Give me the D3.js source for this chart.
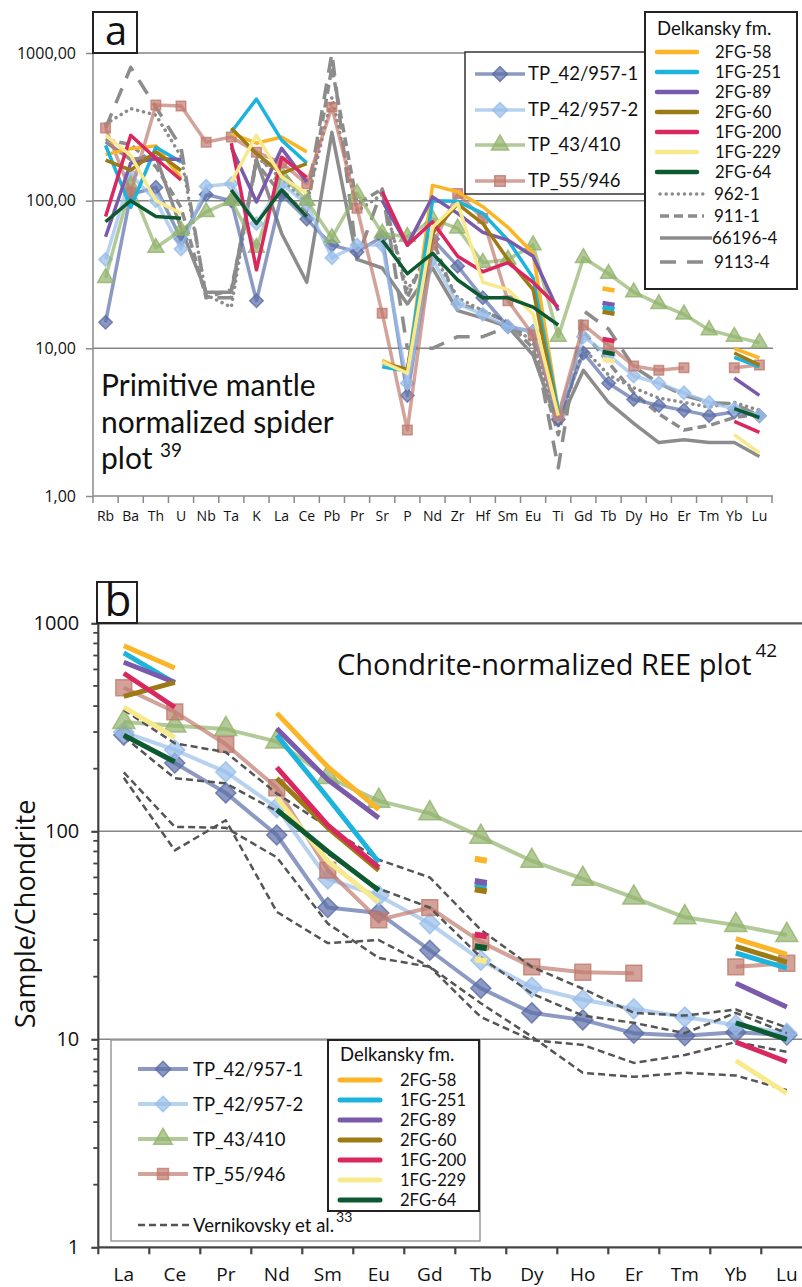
<!DOCTYPE html>
<html>
<head>
<meta charset="utf-8">
<script src="https://cdn.jsdelivr.net/npm/d3@7"></script>
<style>
body { margin: 0; background: #fff; }
svg text { font-family: "Open Sans", Lato, sans-serif; fill: #111; }
svg text.leg { font-family: Lato, "Open Sans", sans-serif; }
</style>
</head>
<body>
<div class="content"></div>
<script>
// ---- panel a: primitive mantle normalized ----
var elementsA = ["Rb","Ba","Th","U","Nb","Ta","K","La","Ce","Pb","Pr","Sr","P","Nd","Zr","Hf","Sm","Eu","Ti","Gd","Tb","Dy","Ho","Er","Tm","Yb","Lu"];

var tp42_1A = [15,110,123,55,110,100,21,110,75,50,45,57,4.8,55,36,22,14,13,3.3,9.3,5.8,4.5,4.1,3.8,3.5,3.7,3.5];
var tp42_2A = [40,150,100,47,125,130,70,130,95,41,50,50,5.8,40,20,17,14,13,3.5,12,9,6.5,5.8,5.0,4.3,3.9,3.5];
var tp43A   = [30,127,48,63,84,100,48,150,100,56,112,60,57,75,65,38,40,50,12,41,32,24,20,17,13.3,12,10.9];
var tp55A   = [310,114,444,437,249,270,213,180,130,430,89,17.3,2.8,50,112,76,21,12.3,3.5,14.4,10.5,7.6,7.1,7.4,null,7.4,7.7];

var fg58A  = [205,225,235,142,null,286,245,270,214,null,null,8.3,6.9,127,115,91,66,44,3.8,null,25,null,null,null,null,10,8.6];
var fg251A = [237,90,230,183,null,292,487,257,180,null,null,7.5,7.0,100,99,82,54,30,3.8,null,18.7,null,null,null,null,8.7,7.5];
var fg89A  = [57,180,192,190,null,230,98,226,134,null,null,100,50,106,82,61,54,42,18,null,20,null,null,null,null,6.3,4.8];
var fg60A  = [188,161,214,160,null,310,208,153,178,null,null,8.0,7.2,60,95,70,40,25,3.5,null,17.4,null,null,null,null,9.3,7.7];
var fg200A = [78,277,193,138,null,245,34,197,144,null,null,115,50,72,42,33,38,28,19,null,11.4,null,null,null,null,3.2,2.7];
var fg229A = [277,203,100,82,null,134,277,145,112,null,null,8.1,6.8,66,96,28,25,17,3.5,null,8.3,null,null,null,null,2.6,1.95];
var fg64A  = [72,100,78,76,null,118,70,118,78,null,null,54,32,44,29,22,22,19,14.4,null,9.3,null,null,null,null,3.9,3.4];

var ref962A   = [330,420,380,200,23,19,200,140,95,500,85,110,25,45,22,18,15,11,3.0,10,6.6,5.4,4.6,4.3,4.0,4.3,3.8];
var ref911A   = [260,240,170,90,22,25,180,110,85,800,95,120,22,55,20,18,15,10,2.6,13,8,5,3.6,2.8,3.0,3.4,3.6];
var ref66196A = [250,190,200,65,24,24,190,60,28,290,40,35,20,35,18,16,14,9,3.0,7.1,4.3,3.1,2.3,2.4,2.3,2.3,1.85];
var ref9113A  = [310,800,430,230,22,22,190,160,100,1000,40,120,10,10,12,12,14,12,1.55,18,13.5,7.5,5.8,4.8,4.3,4.2,3.5];

// ---- panel b: chondrite normalized REE ----
var elementsB = ["La","Ce","Pr","Nd","Sm","Eu","Gd","Tb","Dy","Ho","Er","Tm","Yb","Lu"];

var tp42_1B = [290,213,153,96,43,40.5,26.8,17.6,13.4,12.4,10.7,10.4,10.8,10.5];
var tp42_2B = [300,246,193,130,59,49,36,24,17.8,15.5,14,12.8,11.7,10.7];
var tp43B   = [335,322,310,270,182,140,122,94,72,59,48,38.6,35.4,31.7];
var tp55B   = [490,375,262,162,65,37.5,43,29.4,22.3,21,20.8,null,22.3,23.2];

var fg58B  = [780,610,null,370,204,127,null,73,null,null,null,null,30.5,25.6];
var fg251B = [720,515,null,290,145,71,null,55,null,null,null,null,26,22];
var fg89B  = [650,520,null,312,177,116,null,57,null,null,null,null,18.6,14.3];
var fg60B  = [445,520,null,180,104,65,null,52,null,null,null,null,28,23.5];
var fg200B = [575,395,null,203,107,67,null,31.6,null,null,null,null,9.7,7.8];
var fg229B = [395,282,null,145,72,45.6,null,24,null,null,null,null,7.9,5.5];
var fg64B  = [290,216,null,127,80,52,null,27.7,null,null,null,null,12,10];

var vernA = [383,265,240,152,105,73,60,33.6,22.3,17.5,13.4,13,13.9,11.4];
var vernB = [285,180,170,125,78,53,43,24.8,16.6,13,12,10.7,13.4,10.7];
var vernC = [192,105,104,75,36,24.6,22.3,14.9,10.3,6.9,6.6,6.9,6.7,5.7];
var vernD = [181,81,113,41,29,30,22.3,12.8,9.9,9.4,7.7,8.4,9.7,8.7];

var tpNames = ["TP_42/957-1","TP_42/957-2","TP_43/410","TP_55/946"];
var delkNames = ["2FG-58","1FG-251","2FG-89","2FG-60","1FG-200","1FG-229","2FG-64"];
var refNames = ["962-1","911-1","66196-4","9113-4"];

var tpColors = ["#5b6ea8","#98bde9","#92b36c","#c07a6e"];
var tpMarkers = ["diamond","diamond","triangle","square"];
var delkColors = ["#fbb526","#1cb3dc","#7a5aab","#9c7a14","#d9275f","#f8ea8c","#0e5a30"];
var refDash = ["0.1,6","9,5",null,"16,11"];

var svg = d3.select("div.content").append("svg")
    .attr("width", 802)
    .attr("height", 1287);

function marker(type, size){
    if(type == "triangle") return d3.symbol().type(d3.symbolTriangle).size(size)();
    return d3.symbol().type(d3.symbolSquare).size(size)();
}

class SpiderPlot{

    constructor(p){
        this.p = p;
        this.g = svg.append("g");
        this.x = d3.scaleBand().domain(p.categories).range(p.xRange);
        this.y = d3.scaleLog().domain([1, 1000]).range(p.yRange);
        var x = this.x, y = this.y;
        this.cx = function(k){ return x(k) + x.bandwidth()/2; };
    }

    frame(){
        var p = this.p, g = this.g, x = this.x, y = this.y;
        //gridlines
        g.selectAll(".grid")
            .data([10, 100, 1000])
        .enter().append("line")
            .attr("x1", p.xRange[0]).attr("x2", p.gridEnd)
            .attr("y1", function(d){return y(d);}).attr("y2", function(d){return y(d);})
            .style("stroke", function(d){return d == 1000 ? p.topColor : "#858585";})
            .style("stroke-width", function(d){return d == 1000 ? p.topWidth : 1.5;});
        //x-axis line and boundary ticks
        g.append("line")
            .attr("x1", p.xRange[0]).attr("x2", p.gridEnd)
            .attr("y1", y(1)).attr("y2", y(1))
            .style("stroke", p.axisColor).style("stroke-width", p.axisWidth);
        var bounds = p.categories.map(function(k){return x(k);}).concat([p.xRange[1]]);
        g.selectAll(".xtick")
            .data(bounds)
        .enter().append("line")
            .attr("x1", function(d){return d;}).attr("x2", function(d){return d;})
            .attr("y1", y(1)).attr("y2", y(1) + p.tick)
            .style("stroke", p.axisColor).style("stroke-width", p.axisWidth);
        //x labels
        var xAxis = d3.axisBottom(x).tickSize(0).tickPadding(p.labelPad);
        var xg = g.append("g").attr("transform", "translate(0," + y(1) + ")").call(xAxis);
        xg.select(".domain").remove();
        xg.selectAll("text").style("font-size", p.labelSize + "px").style("font-family", "'Open Sans', sans-serif").attr("fill", "#111");
        //y-axis
        g.append("line")
            .attr("x1", p.xRange[0]).attr("x2", p.xRange[0])
            .attr("y1", y(1000)).attr("y2", y(1))
            .style("stroke", p.axisColor).style("stroke-width", p.axisWidth);
        if(p.minor){
            var minors = [];
            [1, 10, 100].forEach(function(b){ for(var m = 2; m < 10; m++) minors.push(b*m); });
            g.selectAll(".minor")
                .data(minors)
            .enter().append("line")
                .attr("x1", p.xRange[0] - 5).attr("x2", p.xRange[0])
                .attr("y1", function(d){return y(d);}).attr("y2", function(d){return y(d);})
                .style("stroke", p.axisColor).style("stroke-width", 1.8);
        }
        var yAxis = d3.axisLeft(y).tickValues([1, 10, 100, 1000]).tickSize(p.tick).tickPadding(p.yPad)
            .tickFormat(p.yFormat);
        var yg = g.append("g").attr("transform", "translate(" + p.xRange[0] + ",0)").call(yAxis);
        yg.select(".domain").remove();
        yg.selectAll("line").style("stroke", p.axisColor).style("stroke-width", p.axisWidth);
        yg.selectAll("text").style("font-size", p.ySize + "px").style("font-family", "'Open Sans', sans-serif").attr("fill", "#111");
    }

    series(values, style){
        var cats = this.p.categories, x = this.x, y = this.y, cx = this.cx, g = this.g;
        var data = cats.map(function(k, i){ return {k: k, v: values[i]}; });
        var valueLine = d3.line()
            .defined(function(d){return d.v != null;})
            .x(function(d){return cx(d.k);})
            .y(function(d){return y(d.v);});
        var path = g.append("path")
            .datum(data)
            .attr("d", valueLine)
            .style("fill", "none")
            .style("stroke", style.color)
            .style("stroke-width", style.width)
            .style("stroke-opacity", style.opacity || 1)
            .style("stroke-linejoin", "round")
            .style("stroke-linecap", style.dash == "0.1,6" ? "round" : "butt");
        if(style.dash) path.style("stroke-dasharray", style.dash);
        //isolated points as short dashes
        var single = data.filter(function(d, i){
            return d.v != null && (i == 0 || data[i-1].v == null) && (i == data.length-1 || data[i+1].v == null);
        });
        g.selectAll(null)
            .data(single)
        .enter().append("line")
            .attr("x1", function(d){return cx(d.k) - 6;}).attr("x2", function(d){return cx(d.k) + 6;})
            .attr("y1", function(d){return y(d.v) - 1;}).attr("y2", function(d){return y(d.v) + 1;})
            .style("stroke", style.color).style("stroke-width", style.width + 1);
        if(style.marker){
            g.selectAll(null)
                .data(data.filter(function(d){return d.v != null;}))
            .enter().append("path")
                .attr("d", marker(style.marker, style.size))
                .attr("transform", function(d){
                    return "translate(" + cx(d.k) + "," + y(d.v) + ")" + (style.marker == "diamond" ? " rotate(45)" : "");
                })
                .style("fill", style.color).style("fill-opacity", 0.7)
                .style("stroke", style.color).style("stroke-opacity", 0.8).style("stroke-width", 1.5);
        }
    }
}

var commaFmt = function(d){ return d.toFixed(2).replace(".", ","); };

// ---------------- panel a ----------------
var plotA = new SpiderPlot({
    categories: elementsA, xRange: [93, 772], yRange: [496, 53], gridEnd: 773,
    topColor: "#858585", topWidth: 1.5, axisColor: "#8a8a8a", axisWidth: 1.5, tick: 7,
    labelSize: 14, labelPad: 15, minor: false, yFormat: commaFmt, ySize: 16, yPad: 10
});
plotA.frame();

[ref962A, ref911A, ref66196A, ref9113A].forEach(function(v, i){
    plotA.series(v, {color: "#8c8c8c", width: 3.5, dash: refDash[i]});
});
[tp42_1A, tp42_2A, tp43A, tp55A].forEach(function(v, i){
    plotA.series(v, {color: tpColors[i], width: 3.5, opacity: 0.7, marker: tpMarkers[i], size: tpMarkers[i] == "triangle" ? 110 : 90});
});
[fg58A, fg251A, fg89A, fg60A, fg200A, fg229A, fg64A].forEach(function(v, i){
    plotA.series(v, {color: delkColors[i], width: 3.5});
});

// panel a label and text
svg.append("rect").attr("x", 93).attr("y", 12).attr("width", 44).attr("height", 41)
    .style("fill", "#fff").style("stroke", "#222").style("stroke-width", 2);
svg.append("text").attr("x", 116).attr("y", 45).attr("text-anchor", "middle")
    .style("font-size", "40px").text("a");

var noteA = svg.append("text").attr("class", "leg").style("font-size", "30px");
noteA.append("tspan").attr("x", 101).attr("y", 396).text("Primitive mantle");
noteA.append("tspan").attr("x", 101).attr("y", 432.5).text("normalized spider");
noteA.append("tspan").attr("x", 101).attr("y", 469).text("plot ");
noteA.append("tspan").attr("dy", -12).style("font-size", "19px").text("39");

// panel a TP legend
var legA = svg.append("g");
legA.append("rect").attr("x", 465).attr("y", 52).attr("width", 185).attr("height", 142)
    .style("fill", "#fff").style("stroke", "#333").style("stroke-width", 1.5);
tpNames.forEach(function(n, i){
    var yy = [74, 110, 145, 181][i];
    legA.append("line").attr("x1", 475).attr("x2", 525).attr("y1", yy).attr("y2", yy)
        .style("stroke", tpColors[i]).style("stroke-opacity", 0.7).style("stroke-width", 3.5);
    legA.append("path").attr("d", marker(tpMarkers[i], tpMarkers[i] == "triangle" ? 130 : 110))
        .attr("transform", "translate(500," + yy + ")" + (tpMarkers[i] == "diamond" ? " rotate(45)" : ""))
        .style("fill", tpColors[i]).style("fill-opacity", 0.7)
        .style("stroke", tpColors[i]).style("stroke-opacity", 0.8).style("stroke-width", 1.5);
    legA.append("text").attr("class", "leg").attr("x", 528).attr("y", yy + 6).style("font-size", "18.5px").text(n);
});

// panel a Delkansky legend
var delA = svg.append("g");
delA.append("rect").attr("x", 645).attr("y", 12).attr("width", 152).attr("height", 277)
    .style("fill", "#fff").style("stroke", "#222").style("stroke-width", 2);
delA.append("text").attr("class", "leg").attr("x", 657).attr("y", 35).style("font-size", "18.5px").text("Delkansky fm.");
delkNames.forEach(function(n, i){
    var yy = 52 + 20*i;
    delA.append("line").attr("x1", 657).attr("x2", 697).attr("y1", yy).attr("y2", yy)
        .style("stroke", delkColors[i]).style("stroke-width", 4.5).style("stroke-linecap", "round");
    delA.append("text").attr("class", "leg").attr("x", 715).attr("y", yy + 6).style("font-size", "16.6px").text(n);
});
refNames.forEach(function(n, i){
    var yy = [194, 216, 238, 262][i];
    var ln = delA.append("line").attr("x1", 660).attr("x2", i == 2 ? 712 : 704).attr("y1", yy).attr("y2", yy)
        .style("stroke", "#8c8c8c").style("stroke-width", 3.5)
        .style("stroke-linecap", i == 0 ? "round" : "butt");
    if(refDash[i]) ln.style("stroke-dasharray", refDash[i]);
    delA.append("text").attr("class", "leg").attr("x", i == 2 ? 712 : 714).attr("y", yy + 6).style("font-size", "17px").text(n);
});

// ---------------- panel b ----------------
var plotB = new SpiderPlot({
    categories: elementsB, xRange: [98.3, 812.3], yRange: [1247.3, 623.3], gridEnd: 802,
    topColor: "#555", topWidth: 2.2, axisColor: "#444", axisWidth: 2.2, tick: 7,
    labelSize: 19, labelPad: 20, minor: true, yFormat: d3.format("d"), ySize: 20, yPad: 12
});
plotB.frame();

[tp42_1B, tp42_2B, tp43B, tp55B].forEach(function(v, i){
    plotB.series(v, {color: tpColors[i], width: 4, opacity: 0.7, marker: tpMarkers[i],
        size: tpMarkers[i] == "triangle" ? 210 : (tpMarkers[i] == "square" ? 250 : 200)});
});
[vernA, vernB, vernC, vernD].forEach(function(v){
    plotB.series(v, {color: "#555", width: 2.5, dash: "7,4"});
});
[fg58B, fg251B, fg89B, fg60B, fg200B, fg229B, fg64B].forEach(function(v, i){
    plotB.series(v, {color: delkColors[i], width: 5});
});

// panel b label and text
svg.append("rect").attr("x", 97).attr("y", 582).attr("width", 40).attr("height", 41)
    .style("fill", "#fff").style("stroke", "#222").style("stroke-width", 2);
svg.append("text").attr("x", 118).attr("y", 616).attr("text-anchor", "middle")
    .style("font-size", "44px").text("b");

var titleB = svg.append("text").attr("x", 337).attr("y", 675).style("font-size", "29px");
titleB.append("tspan").text("Chondrite-normalized REE plot");
titleB.append("tspan").attr("dx", 4).attr("dy", -18).style("font-size", "19px").text("42");

svg.append("text")
    .attr("transform", "translate(35,914) rotate(-90)")
    .attr("text-anchor", "middle")
    .style("font-size", "27px")
    .text("Sample/Chondrite");

// panel b legend
var legB = svg.append("g");
legB.append("rect").attr("x", 111).attr("y", 1040).attr("width", 369).attr("height", 201)
    .style("fill", "#fff").style("stroke", "#999").style("stroke-width", 1.5);
tpNames.forEach(function(n, i){
    var yy = [1069, 1104, 1139, 1174][i];
    legB.append("line").attr("x1", 138).attr("x2", 188).attr("y1", yy).attr("y2", yy)
        .style("stroke", tpColors[i]).style("stroke-opacity", 0.7).style("stroke-width", 4);
    legB.append("path").attr("d", marker(tpMarkers[i], tpMarkers[i] == "triangle" ? 150 : 120))
        .attr("transform", "translate(163," + yy + ")" + (tpMarkers[i] == "diamond" ? " rotate(45)" : ""))
        .style("fill", tpColors[i]).style("fill-opacity", 0.7)
        .style("stroke", tpColors[i]).style("stroke-opacity", 0.8).style("stroke-width", 1.5);
    legB.append("text").attr("class", "leg").attr("x", 193).attr("y", yy + 7).style("font-size", "18.5px").text(n);
});
legB.append("line").attr("x1", 138).attr("x2", 190).attr("y1", 1225).attr("y2", 1225)
    .style("stroke", "#555").style("stroke-width", 2.5).style("stroke-dasharray", "7,4");
var vt = legB.append("text").attr("class", "leg").attr("x", 193).attr("y", 1232).style("font-size", "18.5px");
vt.append("tspan").text("Vernikovsky et al.");
vt.append("tspan").attr("dx", 2).attr("dy", -10).style("font-size", "14px").text("33");

legB.append("rect").attr("x", 328).attr("y", 1040).attr("width", 151).attr("height", 171)
    .style("fill", "#fff").style("stroke", "#222").style("stroke-width", 2);
legB.append("text").attr("class", "leg").attr("x", 340).attr("y", 1061).style("font-size", "18.5px").text("Delkansky fm.");
delkNames.forEach(function(n, i){
    var yy = 1080 + 20*i;
    legB.append("line").attr("x1", 340).attr("x2", 380).attr("y1", yy).attr("y2", yy)
        .style("stroke", delkColors[i]).style("stroke-width", 5).style("stroke-linecap", "round");
    legB.append("text").attr("class", "leg").attr("x", 400).attr("y", yy + 6).style("font-size", "16.6px").text(n);
});
</script>
</body>
</html>
